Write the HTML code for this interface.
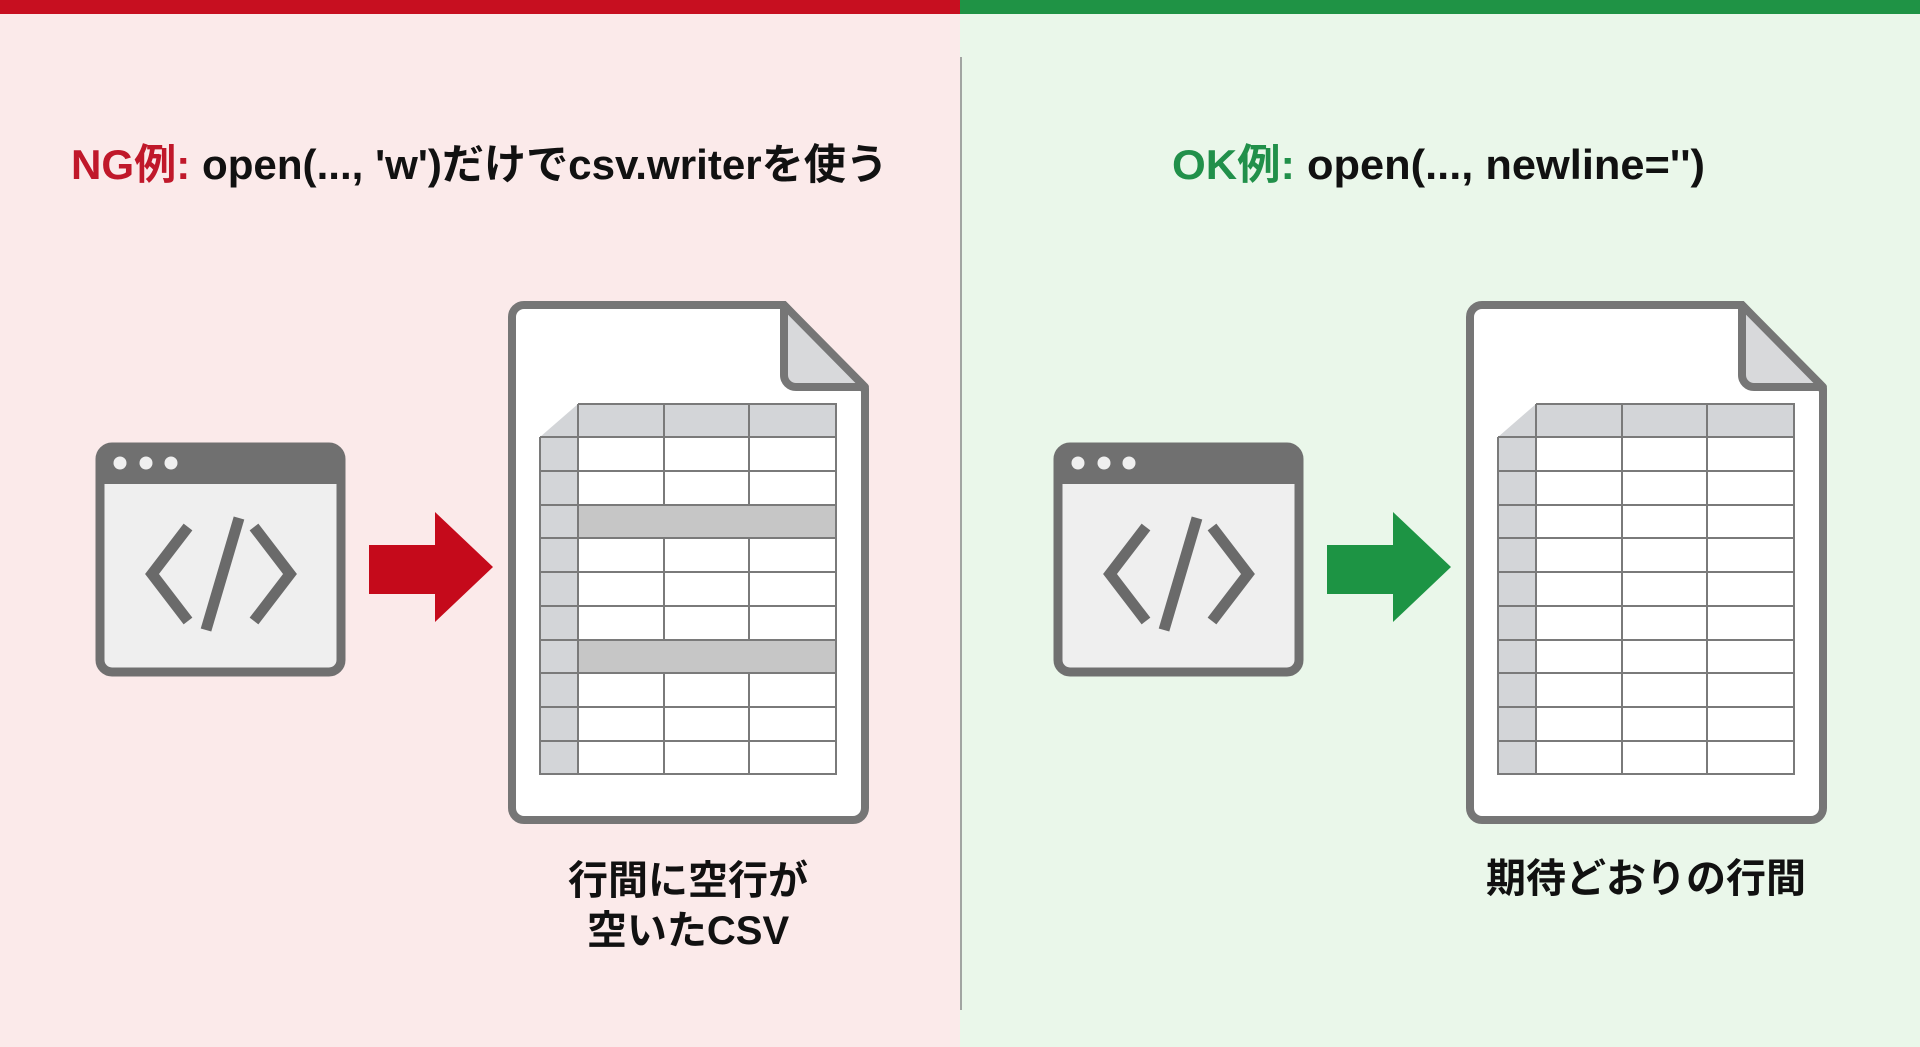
<!DOCTYPE html>
<html><head><meta charset="utf-8"><style>
html,body{margin:0;padding:0;width:1920px;height:1047px;overflow:hidden}
svg{display:block}
text{font-family:"Liberation Sans","Noto Sans CJK JP",sans-serif;font-weight:bold}
</style></head><body>
<svg width="1920" height="1047" viewBox="0 0 1920 1047" xmlns="http://www.w3.org/2000/svg">
<defs>
<g id="code">
 <rect x="100" y="447" width="241" height="225" rx="12" fill="#efefef" stroke="#707070" stroke-width="9"/>
 <path d="M100 459 a12 12 0 0 1 12 -12 h217 a12 12 0 0 1 12 12 v25 h-241z" fill="#707070"/>
 <circle cx="120" cy="463" r="6.5" fill="#efefef"/><circle cx="146" cy="463" r="6.5" fill="#efefef"/><circle cx="171" cy="463" r="6.5" fill="#efefef"/>
 <g fill="none" stroke="#6a6a6a" stroke-width="11">
  <polyline points="188,527 152,574 188,621"/>
  <polyline points="254,527 290,574 254,621"/>
  <line x1="239" y1="518" x2="206" y2="630"/>
 </g>
</g>
<g id="doc">
 <path d="M524 305 H784 L865 390 V808 a12 12 0 0 1 -12 12 H524 a12 12 0 0 1 -12 -12 V317 a12 12 0 0 1 12 -12z" fill="#fff" stroke="#767676" stroke-width="8"/>
 <path d="M784 305 V375 a12 12 0 0 0 12 12 H865z" fill="#d8d9db" stroke="#767676" stroke-width="8" stroke-linejoin="round"/>
 <rect x="578" y="404" width="258" height="33" fill="#d3d5d8"/>
 <rect x="540" y="437" width="38" height="337" fill="#d3d5d8"/>
 <path d="M578 404 V437 H540z" fill="#d3d5d8"/>
</g>
</defs>
<rect x="0" y="0" width="960" height="1047" fill="#fbeaea"/>
<rect x="960" y="0" width="960" height="1047" fill="#eaf7ea"/>
<rect x="0" y="0" width="960" height="14" fill="#c70f20"/>
<rect x="960" y="0" width="960" height="14" fill="#1f9345"/>
<line x1="961" y1="57" x2="961" y2="1010" stroke="#8a8a8a" stroke-width="1.5"/>

<text x="71" y="179" font-size="42" textLength="817" lengthAdjust="spacingAndGlyphs"><tspan fill="#c0182a">NG例:</tspan><tspan fill="#111"> open(..., 'w')だけでcsv.writerを使う</tspan></text>
<text x="1172" y="179" font-size="42" textLength="533" lengthAdjust="spacingAndGlyphs"><tspan fill="#21904a">OK例:</tspan><tspan fill="#111"> open(..., newline='')</tspan></text>

<!-- left -->
<use href="#code"/>
<polygon points="369,545 435,545 435,512 493,567 435,622 435,594 369,594" fill="#c50a1b"/>
<use href="#doc"/>
<rect x="578" y="505" width="258" height="33" fill="#c6c6c6"/>
<rect x="578" y="640" width="258" height="33" fill="#c6c6c6"/>
<g stroke="#7a7a7a" stroke-width="2" fill="none">
 <path d="M540 437 H836 M540 471 H836 M540 505 H836 M540 538 H836 M540 572 H836 M540 606 H836 M540 640 H836 M540 673 H836 M540 707 H836 M540 741 H836"/>
 <path d="M578 404 V774 M664 404 V505 M664 538 V640 M664 673 V774 M749 404 V505 M749 538 V640 M749 673 V774"/>
 <path d="M578 404 H836 V774 H540 V437"/>
</g>
<text x="688" y="894" font-size="40" text-anchor="middle" fill="#111">行間に空行が</text>
<text x="688" y="944" font-size="40" text-anchor="middle" fill="#111">空いたCSV</text>

<!-- right -->
<g transform="translate(958,0)">
<use href="#code"/>
<polygon points="369,545 435,545 435,512 493,567 435,622 435,594 369,594" fill="#1d9444"/>
<use href="#doc"/>
<g stroke="#7a7a7a" stroke-width="2" fill="none">
 <path d="M540 437 H836 M540 471 H836 M540 505 H836 M540 538 H836 M540 572 H836 M540 606 H836 M540 640 H836 M540 673 H836 M540 707 H836 M540 741 H836"/>
 <path d="M578 404 V774 M664 404 V774 M749 404 V774"/>
 <path d="M578 404 H836 V774 H540 V437"/>
</g>
<text x="688" y="892" font-size="40" text-anchor="middle" fill="#111">期待どおりの行間</text>
</g>
</svg>
</body></html>
